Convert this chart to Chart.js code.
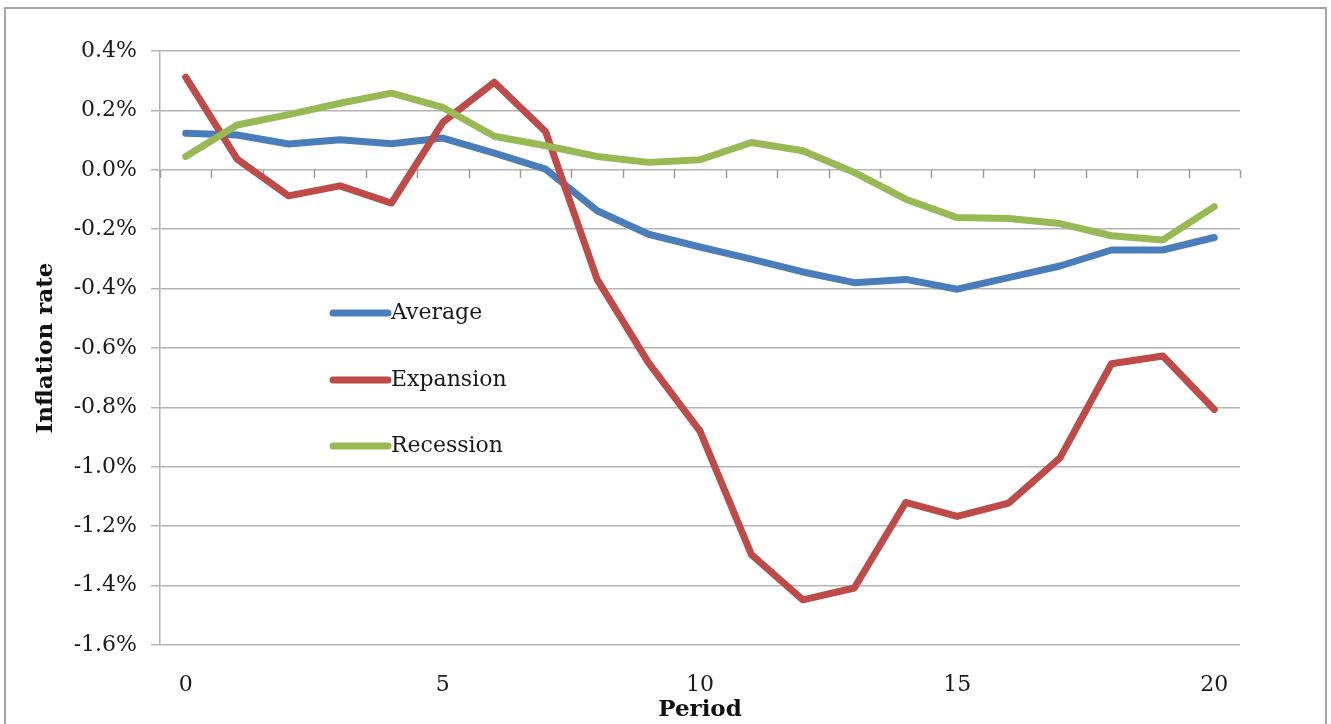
<!DOCTYPE html>
<html>
<head>
<meta charset="utf-8">
<script src="https://cdn.jsdelivr.net/npm/chart.js@4.4.1/dist/chart.umd.min.js"></script>
<style>
    html, body { margin: 0; padding: 0; background: #fff; }
    #wrap { position: relative; width: 1331px; height: 724px; overflow: hidden; }
</style>
</head>
<body>
<div id="wrap"><canvas id="ch-inflation" width="1331" height="724"></canvas></div>
<script>
// ── Datos ─────────────────────────────────────────────────────────────────
const periods       = ['0', '1', '2', '3', '4', '5', '6', '7', '8', '9', '10',
                       '11', '12', '13', '14', '15', '16', '17', '18', '19', '20'];
const averageRate   = [0.123, 0.117, 0.087, 0.101, 0.088, 0.107, 0.056, 0.002, -0.138, -0.217, -0.260,
                       -0.301, -0.344, -0.380, -0.369, -0.402, -0.363, -0.324, -0.270, -0.270, -0.228];
const expansionRate = [0.312, 0.036, -0.088, -0.054, -0.112, 0.160, 0.295, 0.128, -0.369, -0.650, -0.880,
                       -1.296, -1.448, -1.408, -1.120, -1.167, -1.122, -0.970, -0.653, -0.627, -0.807];
const recessionRate = [0.045, 0.151, 0.186, 0.224, 0.258, 0.210, 0.113, 0.081, 0.045, 0.025, 0.034,
                       0.092, 0.064, -0.009, -0.099, -0.161, -0.164, -0.181, -0.222, -0.236, -0.124];
const yMin = -1.6, yMax = 0.4, yStep = 0.2;
const xLabelEvery = 5;

const GRID  = '#b4b4b4';
const SERIF = "'DejaVu Serif', 'Liberation Serif', serif";

// ── Marco exterior del grafico ────────────────────────────────────────────
const framePlugin = {
    id: 'frame',
    beforeDraw(chart) {
        const c = chart.ctx;
        c.save();
        c.strokeStyle = '#a6a6a6'; c.lineWidth = 2;
        c.strokeRect(5, 8, 1321, 740);
        c.restore();
    },
};

// ── Marcas del eje X sobre la linea de 0% ─────────────────────────────────
const zeroTicksPlugin = {
    id: 'zeroTicks',
    beforeDatasetsDraw(chart) {
        const { ctx: c, scales: { x, y } } = chart;
        const y0 = Math.round(y.getPixelForValue(0));
        const n = periods.length;
        const half = (x.getPixelForValue(1) - x.getPixelForValue(0)) / 2;
        c.save();
        c.strokeStyle = '#9a9a9a'; c.lineWidth = 1.5;
        for (let i = 0; i <= n; i++) {
            const px = Math.round(x.getPixelForValue(0) - half + i * 2 * half) + 0.5;
            c.beginPath(); c.moveTo(px, y0); c.lineTo(px, y0 + 8); c.stroke();
        }
        c.restore();
    },
};

// ── Leyenda dentro del area del grafico ───────────────────────────────────
const innerLegendPlugin = {
    id: 'innerLegend',
    afterDatasetsDraw(chart) {
        const { ctx: c, chartArea: a } = chart;
        const names = ['Average', 'Expansion', 'Recession'];
        const rows  = [262, 329, 395];
        c.save();
        c.font = `22px ${SERIF}`;
        c.textBaseline = 'middle';
        c.fillStyle = '#1a1a1a';
        names.forEach((nm, k) => {
            const ds = chart.data.datasets.find(d => d.label === nm);
            const yy = a.top + rows[k];
            c.strokeStyle = ds.borderColor; c.lineWidth = 7; c.lineCap = 'round';
            c.beginPath(); c.moveTo(a.left + 173, yy); c.lineTo(a.left + 228, yy); c.stroke();
            c.fillText(nm, a.left + 231, yy);
        });
        c.restore();
    },
};

const ctx = document.getElementById('ch-inflation').getContext('2d');
const lineDs = (label, data, color, order) => ({
    label, data, order,
    borderColor: color, backgroundColor: color,
    borderWidth: 7, pointRadius: 0, tension: 0,
    borderJoinStyle: 'round', borderCapStyle: 'round',
});

new Chart(ctx, {
    type: 'line',
    data: {
        labels: periods,
        datasets: [
            lineDs('Average',   averageRate,   '#4a7ebb', 2),
            lineDs('Expansion', expansionRate, '#be4b48', 1),
            lineDs('Recession', recessionRate, '#98b954', 0),
        ],
    },
    options: {
        responsive: false, animation: false, devicePixelRatio: 1,
        layout: { padding: { top: 51, right: 91, left: 0, bottom: 0 } },
        plugins: { legend: { display: false }, tooltip: { enabled: false } },
        scales: {
            x: {
                type: 'category', offset: true,
                grid:   { display: false, offset: true },
                border: { display: false },
                ticks:  {
                    color: '#1a1a1a', font: { family: SERIF, size: 22 },
                    autoSkip: false, maxRotation: 0, padding: 19,
                    callback: (v, i) => (i % xLabelEvery === 0 ? periods[i] : ''),
                },
                title: {
                    display: true, text: 'Period', color: '#111',
                    font: { family: SERIF, size: 23, weight: 'bold' }, padding: 0,
                },
                afterFit: s => { s.height = 79; },
            },
            y: {
                min: yMin, max: yMax,
                grid:   { color: GRID, lineWidth: 1.5, tickLength: 9, tickColor: GRID },
                border: { display: true, color: GRID, width: 1.5 },
                ticks:  {
                    stepSize: yStep, padding: 14,
                    color: '#1a1a1a', font: { family: SERIF, size: 22 },
                    callback: v => (Math.round(v * 10) / 10).toFixed(1) + '%',
                },
                title: {
                    display: true, text: 'Inflation rate', color: '#111',
                    font: { family: SERIF, size: 23, weight: 'bold' }, padding: { top: 32 },
                },
                afterFit: s => { s.width = 160; },
            },
        },
    },
    plugins: [framePlugin, zeroTicksPlugin, innerLegendPlugin],
});
</script>
</body>
</html>
